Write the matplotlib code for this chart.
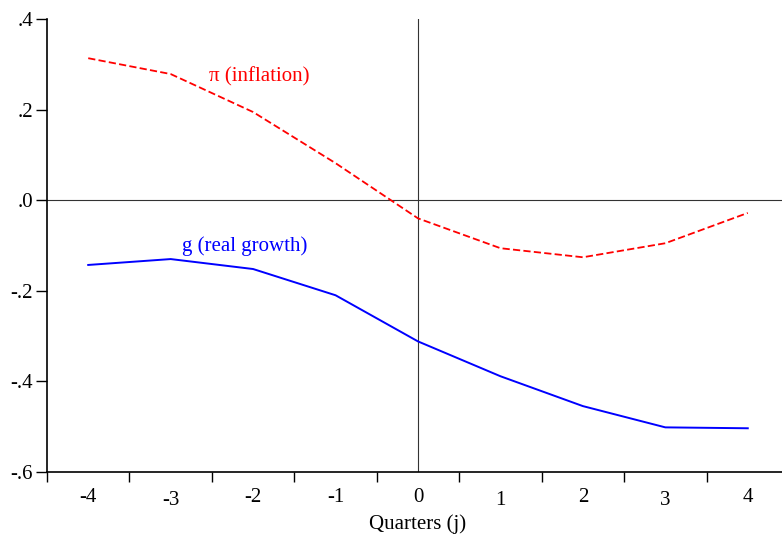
import matplotlib
matplotlib.use("Agg")
import matplotlib.pyplot as plt
from matplotlib.transforms import ScaledTranslation

plt.rcParams["font.family"] = ["Liberation Serif", "DejaVu Serif"]

quarters = [-4, -3, -2, -1, 0, 1, 2, 3, 4]
inflation = [0.314, 0.279, 0.195, 0.082, -0.040, -0.106, -0.126, -0.095, -0.028]
growth = [-0.143, -0.130, -0.152, -0.210, -0.312, -0.389, -0.455, -0.502, -0.504]
yticks = [-0.6, -0.4, -0.2, 0.0, 0.2, 0.4]
ylabels = ["-.6", "-.4", "-.2", ".0", ".2", ".4"]
lowered = [-3, 1, 3]  # labels drawn slightly lower in the original

fig = plt.figure(figsize=(7.82, 5.37), dpi=100)
ax = fig.add_axes([47 / 782, 65.3 / 537, 742 / 782, 452.4 / 537])

ax.axhline(0, color="#333333", lw=0.8, zorder=1)
ax.axvline(0, color="#333333", lw=0.8, zorder=1)

ax.plot(quarters, inflation, color="red", lw=1.3, linestyle=(0, (4, 1.8)))
ax.plot(quarters, growth, color="blue", lw=1.4)

ax.text(-1.93, 0.272, "π (inflation)", color="red", fontsize=15, ha="center", va="center")
ax.text(-2.1, -0.102, "g (real growth)", color="blue", fontsize=15, ha="center", va="center")

ax.set_xlim(-4.5, 4.5)
ax.set_ylim(-0.6, 0.4)
ax.set_yticks(yticks)
ax.set_yticklabels(ylabels)
ax.set_xticks([q + 0.5 for q in quarters[:-1]] + [-4.5])
ax.set_xticklabels([])
ax.set_xticks(quarters, minor=True)
ax.set_xticklabels([str(q) for q in quarters], minor=True)
ax.tick_params(axis="x", which="minor", length=0, pad=12)
ax.tick_params(axis="x", which="major", length=7, width=1)
ax.tick_params(axis="y", length=8, width=1, pad=2)
ax.tick_params(which="both", labelsize=15)

for q, lab in zip(quarters, ax.get_xticklabels(minor=True)):
    if q in lowered:
        lab.set_transform(lab.get_transform() + ScaledTranslation(0, -3 / 100, fig.dpi_scale_trans))

for s in ["top", "right"]:
    ax.spines[s].set_visible(False)
for s in ["left", "bottom"]:
    ax.spines[s].set_linewidth(1.2)

ax.set_xlabel("Quarters (j)", fontsize=15, labelpad=3)

fig.savefig("out.png", dpi=100)
